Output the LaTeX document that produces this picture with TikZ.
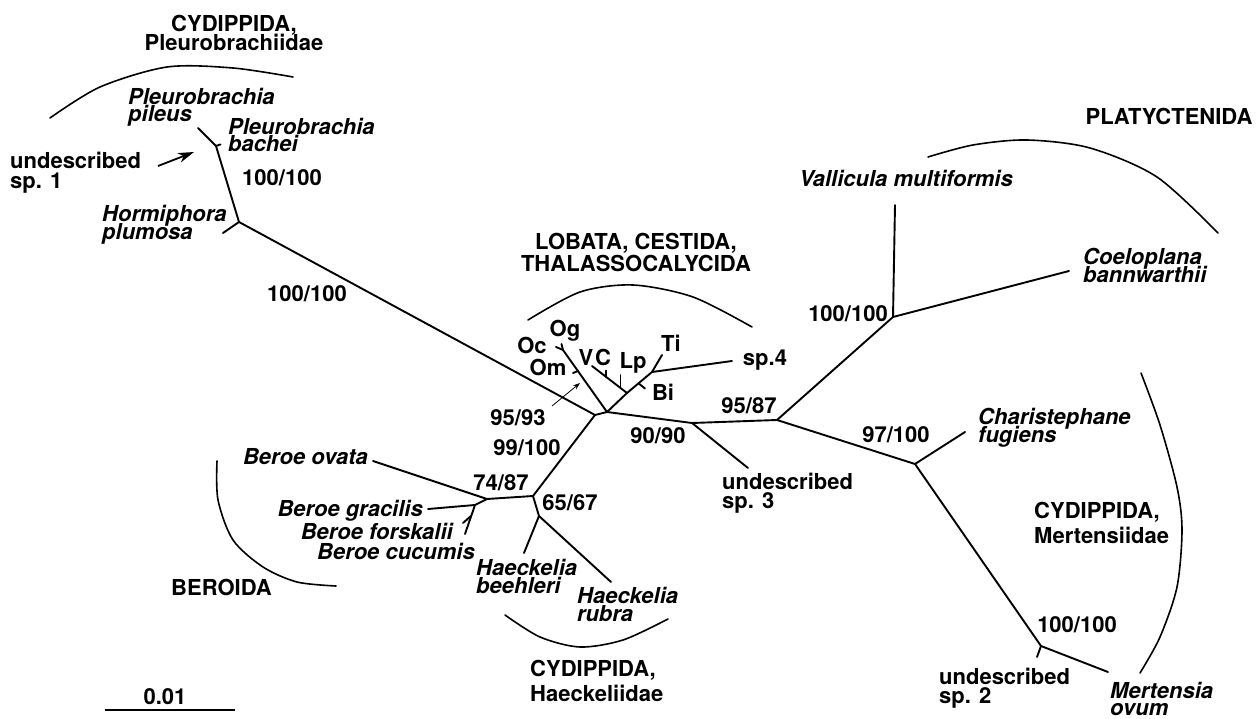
\documentclass[tikz,border=0pt]{standalone}
\usepackage{fontspec}
\setmainfont{TeX Gyre Heros}
\usetikzlibrary{arrows.meta}
\setlength{\lineskiplimit}{-30pt}
\begin{document}
\begin{tikzpicture}[x=1pt,y=-1pt,
  br/.style={line width=1.9pt, line cap=round, line join=round},
  arcl/.style={line width=1.6pt, line cap=round},
  lab/.style={inner sep=0pt, align=left, anchor=north west, font={\fontsize{22}{18.5}\selectfont\bfseries}},
  sp/.style={inner sep=0pt, align=left, anchor=north west, font={\fontsize{22}{18}\selectfont\bfseries\itshape}},
  spone/.style={inner sep=0pt, anchor=base east, font={\fontsize{22}{18}\selectfont\bfseries\itshape}},
  num/.style={inner sep=0pt, font={\fontsize{22}{22}\selectfont\bfseries}},
  clade/.style={inner sep=0pt, font={\fontsize{22}{24}\selectfont\bfseries}}
]
\useasboundingbox (0,0) rectangle (1256,719);

% ---------- tree nodes ----------
\coordinate (pil) at (198,128);
\coordinate (PB) at (216,146);
\coordinate (bach) at (220.5,144.5);
\coordinate (H) at (239,222);
\coordinate (horm) at (223,233);
\coordinate (N1) at (595,415);
\coordinate (C0) at (607,412);
\coordinate (OJ) at (563,350);
\coordinate (og) at (561.5,344);
\coordinate (oc) at (556,347);
\coordinate (omb) at (578,371);
\coordinate (om) at (573,373);
\coordinate (L1) at (627,393);
\coordinate (v) at (592,366);
\coordinate (cb) at (606,377);
\coordinate (c) at (606,370.5);
\coordinate (lpb) at (620.5,388);
\coordinate (lp) at (620.5,375);
\coordinate (L2) at (652,372);
\coordinate (ti) at (662,355);
\coordinate (sp4) at (732,361);
\coordinate (bib) at (638.5,383.3);
\coordinate (bi) at (645,388.5);
\coordinate (R1) at (692,423);
\coordinate (sp3) at (748,468);
\coordinate (R2) at (777,420);
\coordinate (P) at (893,317);
\coordinate (vall) at (895,205);
\coordinate (coel) at (1069,271);
\coordinate (M1) at (915,464);
\coordinate (char) at (965,432);
\coordinate (M2) at (1041,646);
\coordinate (mert) at (1108,672);
\coordinate (sp2) at (1037,657);
\coordinate (B0) at (533,496);
\coordinate (HA) at (539,516);
\coordinate (beeh) at (524,553);
\coordinate (rub) at (611,582);
\coordinate (BB) at (487,499);
\coordinate (ova) at (373,461);
\coordinate (J) at (475,505);
\coordinate (grac) at (428,509);
\coordinate (fors) at (465,534);
\coordinate (cucb) at (471,516);
\coordinate (cuc) at (463,523);

% ---------- branches ----------
\draw[br] (pil) -- (PB) -- (H) -- (N1) -- (C0);
\draw[br] (PB) -- (bach);
\draw[br] (H) -- (horm);
\draw[br] (C0) -- (OJ) -- (og);
\draw[br] (OJ) -- (oc);
\draw[br] (omb) -- (om);
\draw[br] (C0) -- (L1) -- (v);
\draw[br] (cb) -- (c);
\draw[br] (lpb) -- (lp);
\draw[br] (L1) -- (L2) -- (ti);
\draw[br] (L2) -- (sp4);
\draw[br] (bib) -- (bi);
\draw[br] (C0) -- (R1) -- (R2) -- (P) -- (vall);
\draw[br] (P) -- (coel);
\draw[br] (R1) -- (sp3);
\draw[br] (R2) -- (M1) -- (char);
\draw[br] (M1) -- (M2) -- (mert);
\draw[br] (M2) -- (sp2);
\draw[br] (N1) -- (B0) -- (HA) -- (beeh);
\draw[br] (HA) -- (rub);
\draw[br] (B0) -- (BB) -- (ova);
\draw[br] (BB) -- (J) -- (grac);
\draw[br] (J) -- (fors);
\draw[br] (cucb) -- (cuc);

% ---------- scale bar ----------
\coordinate (s1) at (105,710);
\coordinate (s2) at (235,710);
\draw[br, line cap=butt] (s1) -- (s2);
\node[num] (scale) at (165,697) {0.01};

% ---------- arrows ----------
\coordinate (a1s) at (158,166);
\coordinate (a1e) at (194,152);
\draw[line width=1.8pt, -{Stealth[length=16pt,width=10pt,inset=5pt]}] (a1s) -- (a1e);
\coordinate (a2s) at (552,406);
\coordinate (a2e) at (580,383);
\draw[line width=0.8pt, -{Stealth[length=7pt,width=5pt]}] (a2s) -- (a2e);

% ---------- clade arcs ----------
\draw[arcl] plot[smooth] coordinates {(50,118) (100,87) (167,67) (233,68) (293,77)};
\draw[arcl] plot[smooth] coordinates {(528,320) (580,292) (633,285) (693,297) (752,327)};
\draw[arcl] plot[smooth] coordinates {(928,157) (973,145) (1027,140) (1090,148) (1157,177) (1218,233)};
\draw[arcl] plot[smooth] coordinates {(1141,373) (1160,425) (1177,487) (1182,530) (1177,587) (1160,637) (1140,673)};
\draw[arcl] plot[smooth] coordinates {(217,461) (218,500) (233,540) (263,567) (297,582) (336,586)};
\draw[arcl] plot[smooth] coordinates {(505,615) (540,637) (580,647) (623,640) (668,619)};

% ---------- clade labels ----------
\node[clade, align=center, anchor=north, font={\fontsize{22}{19}\selectfont\bfseries}] (cPl) at (234,15) {CYDIPPIDA,\\Pleurobrachiidae};
\node[clade, align=center, anchor=north, font={\fontsize{22}{22}\selectfont\bfseries}] (cLo) at (636,233) {LOBATA, CESTIDA,\\THALASSOCALYCIDA};
\node[clade] (cPt) at (1169,116) {PLATYCTENIDA};
\node[clade, anchor=base east] (cBe) at (272,595) {BEROIDA};
\node[clade, align=left, anchor=north west, font={\fontsize{22}{25}\selectfont\bfseries}] (cHa) at (530,660) {CYDIPPIDA,\\Haeckeliidae};
\node[clade, align=left, anchor=north west, font={\fontsize{22}{24.5}\selectfont\bfseries}] (cMe) at (1034,502) {CYDIPPIDA,\\Mertensiidae};

% ---------- taxon labels ----------
\node[sp, font={\fontsize{22}{17.5}\selectfont\bfseries\itshape}] (tPil) at (128,88) {Pleurobrachia\\pileus};
\node[sp, font={\fontsize{22}{17.5}\selectfont\bfseries\itshape}] (tBac) at (228,118) {Pleurobrachia\\bachei};
\node[lab, font={\fontsize{22}{20}\selectfont\bfseries}] (tU1) at (10,152) {undescribed\\sp. 1};
\node[sp, font={\fontsize{22}{17.5}\selectfont\bfseries\itshape}] (tHor) at (102,205) {Hormiphora\\plumosa};
\node[lab] (tU3) at (722,473) {undescribed\\sp. 3};
\node[lab] (tU2) at (939,668) {undescribed\\sp. 2};
\node[spone] (tVal) at (1013,187) {Vallicula multiformis};
\node[sp, font={\fontsize{22}{17.5}\selectfont\bfseries\itshape}] (tCoe) at (1083,248) {Coeloplana\\bannwarthii};
\node[sp] (tCha) at (978,408) {Charistephane\\fugiens};
\node[sp, font={\fontsize{22}{17}\selectfont\bfseries\itshape}] (tMer) at (1110,682) {Mertensia\\ovum};
\node[spone] (tOva) at (368,464) {Beroe ovata};
\node[spone] (tGra) at (423,516) {Beroe gracilis};
\node[spone] (tFor) at (453,539) {Beroe forskalii};
\node[spone] (tCuc) at (475,559) {Beroe cucumis};
\node[sp] (tBee) at (476,559) {Haeckelia\\beehleri};
\node[sp] (tRub) at (577,587) {Haeckelia\\rubra};

% lobate short labels
\node[num] (tOc) at (532,345) {Oc};
\node[num] (tOg) at (565,331) {Og};
\node[num] (tOm) at (548,367) {Om};
\node[num] (tV) at (586,357) {V};
\node[num] (tC) at (603,357) {C};
\node[num, anchor=base] (tLp) at (633,368) {Lp};
\node[num] (tTi) at (671,343) {Ti};
\node[num] (tSp4) at (765,360) {sp.4};
\node[num] (tBi) at (663,392) {Bi};

% ---------- support values ----------
\node[num] (b1) at (282,178) {100/100};
\node[num] (b2) at (307,294) {100/100};
\node[num] (b3) at (518,418) {95/93};
\node[num] (b4) at (527,448) {99/100};
\node[num] (b5) at (501,483) {74/87};
\node[num] (b6) at (570,503) {65/67};
\node[num] (b7) at (658,436) {90/90};
\node[num] (b8) at (749,406) {95/87};
\node[num] (b9) at (896,435) {97/100};
\node[num] (b10) at (848,314) {100/100};
\node[num] (b11) at (1077,625) {100/100};
\end{tikzpicture}
\end{document}
